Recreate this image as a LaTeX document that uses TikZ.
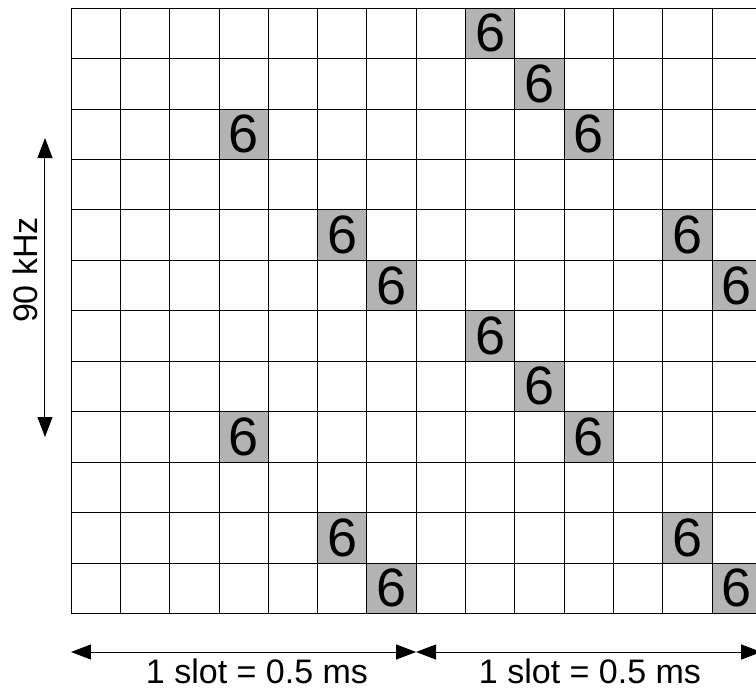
\documentclass[tikz,border=0pt]{standalone}
\usepackage{fontspec}
\setmainfont{Liberation Sans}
\usepackage{xcolor}
\usepackage{tikz}
\usetikzlibrary{arrows.meta}
\definecolor{hopgray}{RGB}{179,179,179}

\begin{document}
\begin{tikzpicture}[
  x=49.3pt, y=50.45pt,
  gridline/.style={draw=black, line width=0.8pt},
  hop/.style={draw=black, line width=0.8pt, fill=hopgray, inner sep=0pt, minimum width=49.3pt, minimum height=50.45pt, font=\fontsize{54}{60}\selectfont},
  dim/.style={{Triangle[length=20pt,width=15pt]}-{Triangle[length=20pt,width=15pt]}, line width=1pt},
  lbl/.style={font=\fontsize{34}{40}\selectfont, inner sep=0pt}
]
\useasboundingbox (-71pt,8pt) rectangle (685pt,-681pt);

% time-frequency grid
\foreach \c in {0,...,15}
  \draw[gridline] (\c,0) -- (\c,-12);
\foreach \r in {0,...,12}
  \draw[gridline] (0,-\r) -- (15,-\r);

% hopping pattern
\node[hop] (h1) at (8.5,-0.5) {6};
\node[hop] (h2) at (9.5,-1.5) {6};
\node[hop] (h3) at (3.5,-2.5) {6};
\node[hop] (h4) at (10.5,-2.5) {6};
\node[hop] (h5) at (5.5,-4.5) {6};
\node[hop] (h6) at (12.5,-4.5) {6};
\node[hop] (h7) at (6.5,-5.5) {6};
\node[hop] (h8) at (13.5,-5.5) {6};
\node[hop] (h9) at (8.5,-6.5) {6};
\node[hop] (h10) at (9.5,-7.5) {6};
\node[hop] (h11) at (3.5,-8.5) {6};
\node[hop] (h12) at (10.5,-8.5) {6};
\node[hop] (h13) at (5.5,-10.5) {6};
\node[hop] (h14) at (12.5,-10.5) {6};
\node[hop] (h15) at (6.5,-11.5) {6};
\node[hop] (h16) at (13.5,-11.5) {6};

% bandwidth
\coordinate (bwtop) at (-26pt,-130pt);
\coordinate (bwbot) at (-26pt,-429pt);
\draw[dim] (bwtop) -- (bwbot);
\node[lbl, rotate=90, anchor=base] (bw) at (-33pt,-262pt) {90 kHz};

% slots
\coordinate (s0) at (0pt,-644pt);
\coordinate (s1) at (345.1pt,-644pt);
\coordinate (s2) at (690.2pt,-644pt);
\draw[dim] (s0) -- (s1);
\draw[dim] (s1) -- (s2);
\node[lbl, anchor=base] (slot1) at (186pt,-675pt) {1 slot = 0.5 ms};
\node[lbl, anchor=base] (slot2) at (519pt,-675pt) {1 slot = 0.5 ms};

\end{tikzpicture}
\end{document}
